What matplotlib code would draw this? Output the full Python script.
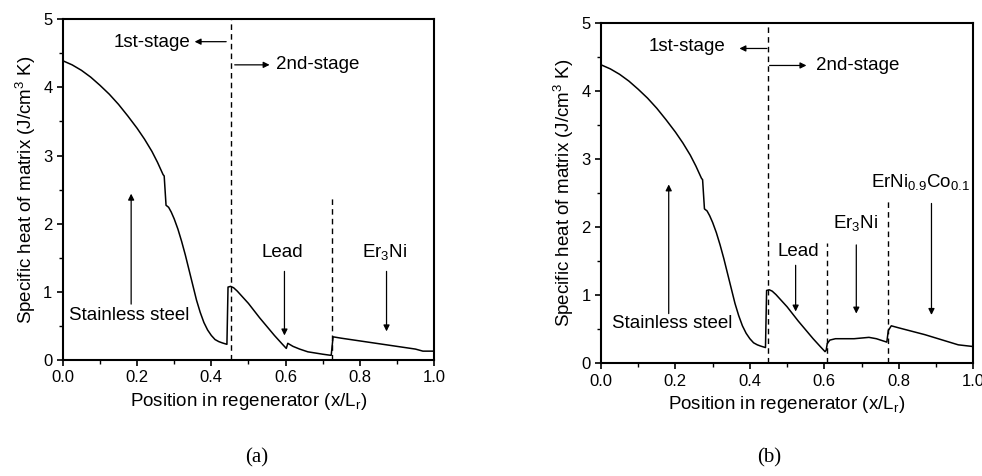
import matplotlib
matplotlib.use('Agg')
import matplotlib.pyplot as plt

plt.rcParams['font.family'] = ['Liberation Sans', 'DejaVu Sans']
plt.rcParams['mathtext.default'] = 'regular'

# stainless steel part, same in both panels
x_ss = [0.0, 0.025, 0.05, 0.075, 0.1, 0.125, 0.15, 0.175, 0.2, 0.22, 0.24, 0.255, 0.27,
        0.273, 0.278, 0.285, 0.292, 0.3, 0.31, 0.32, 0.33, 0.34, 0.35, 0.36, 0.37,
        0.38, 0.39, 0.40, 0.41, 0.42, 0.43, 0.442]
y_ss = [4.39, 4.33, 4.25, 4.15, 4.03, 3.90, 3.75, 3.58, 3.40, 3.24, 3.06, 2.90, 2.72,
        2.70, 2.27, 2.24, 2.17, 2.07, 1.92, 1.74, 1.54, 1.32, 1.10, 0.88, 0.70,
        0.55, 0.44, 0.36, 0.30, 0.27, 0.25, 0.23]

# lead part (2nd stage start)
x_lead = [0.445, 0.452, 0.46, 0.47, 0.48, 0.49, 0.5, 0.51, 0.52, 0.53, 0.54, 0.55,
          0.56, 0.57, 0.58, 0.59, 0.602]
y_lead = [1.07, 1.08, 1.06, 1.01, 0.95, 0.89, 0.83, 0.76, 0.69, 0.62, 0.555, 0.49,
          0.425, 0.36, 0.30, 0.24, 0.17]

# panel (a): lead then Er3Ni
x_a_tail = [0.606, 0.62, 0.638, 0.66, 0.683, 0.70, 0.72, 0.723, 0.728, 0.75, 0.8, 0.85,
            0.9, 0.95, 0.97, 1.0]
y_a_tail = [0.245, 0.20, 0.16, 0.12, 0.10, 0.085, 0.07, 0.07, 0.34, 0.32, 0.28, 0.24,
            0.20, 0.16, 0.13, 0.13]

# panel (b): lead, Er3Ni, ErNi0.9Co0.1
x_b_tail = [0.605, 0.608, 0.615, 0.63, 0.68, 0.72, 0.74, 0.768, 0.772, 0.78, 0.8, 0.87,
            0.96, 1.0]
y_b_tail = [0.19, 0.29, 0.34, 0.36, 0.36, 0.38, 0.36, 0.31, 0.48, 0.55, 0.52, 0.42,
            0.27, 0.245]

# dashed boundaries: position and top
vx_a = [0.452, 0.726]
vtop_a = [5.0, 2.42]
vx_b = [0.45, 0.608, 0.771]
vtop_b = [5.0, 1.77, 2.43]

FS = 13.5


def arrow(ax, x0, y0, x1, y1):
    ax.annotate('', xy=(x1, y1), xytext=(x0, y0),
                arrowprops=dict(arrowstyle='-|>', lw=0.9, color='black',
                                mutation_scale=9, shrinkA=0, shrinkB=0))


def setup(ax, x, y, vx, vtop):
    ax.plot(x, y, color='black', lw=1.1)
    ax.vlines(vx, 0, vtop, colors='black', linestyles=(0, (4, 3)), lw=1.0)
    ax.set_xlim(0, 1.0)
    ax.set_ylim(0, 5)
    ax.set_xticks([0.0, 0.2, 0.4, 0.6, 0.8, 1.0])
    ax.set_xticks([0.1, 0.3, 0.5, 0.7, 0.9], minor=True)
    ax.set_yticks([0, 1, 2, 3, 4, 5])
    ax.set_yticks([0.5, 1.5, 2.5, 3.5, 4.5], minor=True)
    ax.set_xticklabels(['0.0', '0.2', '0.4', '0.6', '0.8', '1.0'])
    ax.tick_params(which='major', direction='out', length=4, width=1.2, labelsize=12)
    ax.tick_params(which='minor', direction='out', length=3, width=1.0)
    for s in ax.spines.values():
        s.set_linewidth(1.5)
    ax.set_xlabel('Position in regenerator (x/L$_r$)', fontsize=FS)
    ax.set_ylabel('Specific heat of matrix (J/cm$^3$ K)', fontsize=FS)


fig = plt.figure(figsize=(9.82, 4.76), dpi=100)
ax1 = fig.add_axes([0.064, 0.2437, 0.378, 0.716])
ax2 = fig.add_axes([0.612, 0.237, 0.379, 0.714])

setup(ax1, x_ss + x_lead + x_a_tail, y_ss + y_lead + y_a_tail, vx_a, vtop_a)
setup(ax2, x_ss + x_lead + x_b_tail, y_ss + y_lead + y_b_tail, vx_b, vtop_b)

# panel (a) labels
ax1.text(0.24, 4.66, '1st-stage', fontsize=FS, ha='center', va='center')
arrow(ax1, 0.44, 4.67, 0.355, 4.67)
arrow(ax1, 0.463, 4.33, 0.557, 4.33)
ax1.text(0.575, 4.33, '2nd-stage', fontsize=FS, ha='left', va='center')
ax1.text(0.178, 0.646, 'Stainless steel', fontsize=FS, ha='center', va='center')
arrow(ax1, 0.184, 0.82, 0.184, 2.44)
ax1.text(0.59, 1.58, 'Lead', fontsize=FS, ha='center', va='center')
arrow(ax1, 0.597, 1.30, 0.597, 0.36)
ax1.text(0.867, 1.58, 'Er$_3$Ni', fontsize=FS, ha='center', va='center')
arrow(ax1, 0.872, 1.30, 0.872, 0.42)

# panel (b) labels
ax2.text(0.231, 4.66, '1st-stage', fontsize=FS, ha='center', va='center')
arrow(ax2, 0.446, 4.63, 0.372, 4.63)
arrow(ax2, 0.453, 4.38, 0.552, 4.38)
ax2.text(0.578, 4.38, '2nd-stage', fontsize=FS, ha='left', va='center')
ax2.text(0.19, 0.59, 'Stainless steel', fontsize=FS, ha='center', va='center')
arrow(ax2, 0.182, 0.73, 0.182, 2.63)
ax2.text(0.529, 1.65, 'Lead', fontsize=FS, ha='center', va='center')
arrow(ax2, 0.523, 1.44, 0.523, 0.76)
ax2.text(0.684, 2.06, 'Er$_3$Ni', fontsize=FS, ha='center', va='center')
arrow(ax2, 0.686, 1.74, 0.686, 0.73)
ax2.text(0.86, 2.66, 'ErNi$_{0.9}$Co$_{0.1}$', fontsize=FS, ha='center', va='center')
arrow(ax2, 0.888, 2.35, 0.888, 0.71)

fig.text(257 / 982, 1 - 458 / 476, '(a)', fontsize=15, family='Liberation Serif',
         ha='center', va='center')
fig.text(769 / 982, 1 - 458 / 476, '(b)', fontsize=15, family='Liberation Serif',
         ha='center', va='center')

plt.savefig('out.png', dpi=100)
